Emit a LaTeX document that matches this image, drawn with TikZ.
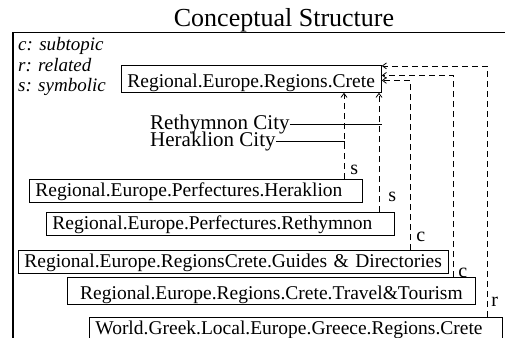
\documentclass[tikz,border=0pt]{standalone}
\usepackage{fontspec}
\setmainfont{Liberation Serif}
\usetikzlibrary{arrows.meta}

\begin{document}
\begin{tikzpicture}[x=1pt,y=-1pt,
    concept/.style={draw,line width=0.8pt,anchor=north west,align=left,
      font=\fontsize{19.5}{20}\selectfont,inner xsep=6pt,inner ysep=1.5pt,
      text height=16pt,text depth=3.5pt},
    tall/.style={text height=20.5pt},
    link/.style={line width=0.8pt,dash pattern=on 6pt off 4pt,
      -{Straight Barb[length=4pt,width=6pt]}},
    tag/.style={font=\fontsize{20}{20}\selectfont,inner sep=2pt}]
  \useasboundingbox (0,0) rectangle (505,337);
  \clip (0,0) rectangle (505,337);

  % Title and frame
  \node[anchor=base,font=\fontsize{26}{28}\selectfont] (title) at (284,26.5) {Conceptual Structure};
  \draw[line width=1.2pt] (13,345) -- (13,32.3) -- (510,32.3);

  % Legend
  \node[anchor=base west,font=\fontsize{19}{21}\selectfont\itshape,inner sep=0] (legc) at (18,50) {c: subtopic};
  \node[anchor=base west,font=\fontsize{19}{21}\selectfont\itshape,inner sep=0] (legr) at (18,71) {r: related};
  \node[anchor=base west,font=\fontsize{19}{21}\selectfont\itshape,inner sep=0] (legs) at (18,91) {s: symbolic};

  % Concepts
  \node[concept,tall,text width=248pt] (crete) at (121,65) {Regional.Europe.Regions.Crete};
  \node[concept,text width=321pt] (herak) at (29,179) {Regional.Europe.Perfectures.Heraklion};
  \node[concept,text width=336pt] (rethym) at (46,212) {Regional.Europe.Perfectures.Rethymnon};
  \node[concept,text width=418pt] (guides) at (18,250) {Regional.Europe.RegionsCrete.Guides \&~Directories};
  \node[concept,tall,align=center,text width=396pt] (travel) at (67,277) {Regional.Europe.Regions.Crete.Travel\&Tourism};
  \node[concept,text width=401pt] (world) at (89,316.7) {World.Greek.Local.Europe.Greece.Regions.Crete};

  % Instances
  \node[anchor=base west,font=\fontsize{21}{22}\selectfont,inner sep=0] (rcity) at (150,129.3) {Rethymnon City};
  \node[anchor=base west,font=\fontsize{21}{22}\selectfont,inner sep=0] (hcity) at (150,146) {Heraklion City};

  % Link columns
  \coordinate (s1) at (344,0);
  \coordinate (s2) at (379,0);
  \coordinate (c1) at (410,0);
  \coordinate (c2) at (453,0);
  \coordinate (r1) at (487,0);
  \coordinate (rend) at (382,0);
  \coordinate (hend) at (344,148);

  % Links
  \draw[link] (herak.north -| s1) -- (crete.south -| s1) node[tag,pos=.1,right=4pt] {s};
  \draw[link] (rethym.north -| s2) -- (crete.south -| s2) node[tag,pos=.125,right=7pt] {s};
  \draw[link] (guides.north -| c1) |- ([yshift=-1.5pt]crete.east) node[tag,pos=.04,right=4pt] {c};
  \draw[link] (travel.north -| c2) |- ([yshift=3.5pt]crete.east) node[tag,pos=.01,right=3pt] {c};
  \draw[link] (world.north -| r1) |- ([yshift=13pt]crete.east) node[tag,pos=.03,right=2pt] {r};

  % Instance lines
  \draw[line width=0.8pt] (rcity.east) -- (rcity.east -| rend);
  \draw[line width=0.8pt] (hcity.east) -| (hend);
\end{tikzpicture}
\end{document}
